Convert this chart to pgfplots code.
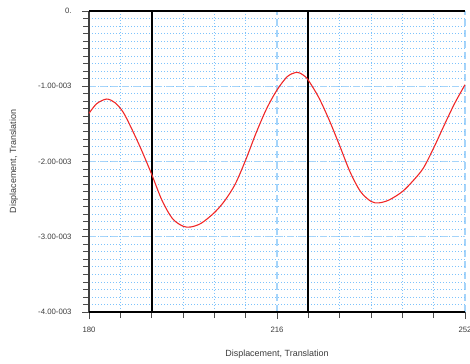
\documentclass[border=0pt]{standalone}
\usepackage{pgfplots}
\pgfplotsset{compat=1.18}
\usepackage{fontspec}
\setmainfont{Liberation Sans}

\definecolor{gridmajor}{RGB}{165,212,250}
\definecolor{gridminor}{RGB}{125,195,252}
\definecolor{curvered}{RGB}{240,40,40}
\definecolor{labelgray}{RGB}{60,60,60}

\begin{document}
\begin{tikzpicture}[x=1bp,y=1bp]
\path[use as bounding box] (0,0) rectangle (470,363);
\begin{axis}[
  at={(89bp,51bp)}, anchor=south west,
  scale only axis, width=376bp, height=301bp,
  xmin=180, xmax=252, ymin=-0.004, ymax=0,
  scaled y ticks=false, scaled x ticks=false,
  axis x line*=bottom, axis y line*=left,
  x axis line style={black, line width=1.2pt, -},
  y axis line style={black!75, line width=1pt, -},
  xtick={180,216,252}, xticklabels={180,216,252},
  minor xtick={186,192,198,204,210,222,228,234,240,246},
  ytick={-0.004,-0.003,-0.002,-0.001,0},
  yticklabels={-4.00-003,-3.00-003,-2.00-003,-1.00-003,0.},
  minor ytick={-0.0039,-0.0038,...,-0.0001},
  tick align=outside,
  major tick length=7bp, minor tick length=6bp,
  every tick/.style={black!70, line width=0.8pt},
  tick label style={font=\fontsize{7.8}{9}\selectfont, text=labelgray},
  yticklabel style={xshift=-7bp},
  xticklabel style={yshift=-5bp},
  grid=both,
  major grid style={gridmajor, line width=1.1pt, dash pattern=on 7bp off 4bp},
  minor grid style={gridminor, line width=0.8pt, dash pattern=on 1bp off 2bp},
  xlabel={Displacement, Translation},
  ylabel={Displacement, Translation},
  label style={font=\fontsize{9}{11}\selectfont, text=labelgray},
  xlabel style={at={(axis description cs:0.5,-0.14)}, anchor=center},
  ylabel style={at={(axis description cs:-0.2,0.5)}, anchor=center, rotate=0},
  clip=false,
]
% frame lines drawn over the grid
\addplot[black!75, line width=1.2pt, forget plot] coordinates {(180,0) (180,-0.004)};
\addplot[black, line width=1.2pt, forget plot] coordinates {(180,-0.004) (252,-0.004)};
\addplot[black, line width=1.7pt, forget plot] coordinates {(180,0) (252,0)};
% vertical cursor lines
\addplot[black, line width=1.9pt, forget plot] coordinates {(192,0) (192,-0.004)};
\addplot[black, line width=1.9pt, forget plot] coordinates {(222,0) (222,-0.004)};
% response curve
\addplot[curvered, line width=1.1pt, smooth, tension=0.5] coordinates {
(180.0,-0.00136) (181.5,-0.00123) (183.4,-0.00117) (185.0,-0.00122)
(186.5,-0.00134) (188.0,-0.00154) (190.0,-0.00184) (192.0,-0.00217)
(194.0,-0.00252) (196.0,-0.00276) (198.0,-0.00286) (199.5,-0.00287)
(201.5,-0.00282) (204.0,-0.00268) (206.0,-0.00252) (208.0,-0.00230)
(210.0,-0.00198) (212.0,-0.00162) (214.0,-0.00130) (216.0,-0.00105)
(218.0,-0.00087) (219.8,-0.000815) (221.0,-0.00085) (222.0,-0.00092)
(224.0,-0.00115) (226.0,-0.00145) (228.0,-0.00179) (230.0,-0.00214)
(232.0,-0.00240) (234.0,-0.00253) (235.5,-0.00255) (237.5,-0.00251)
(240.0,-0.00240) (242.0,-0.00226) (244.0,-0.00209) (246.0,-0.00182)
(248.0,-0.00152) (250.0,-0.00123) (252.0,-0.00098)
};
\end{axis}
\end{tikzpicture}
\end{document}
